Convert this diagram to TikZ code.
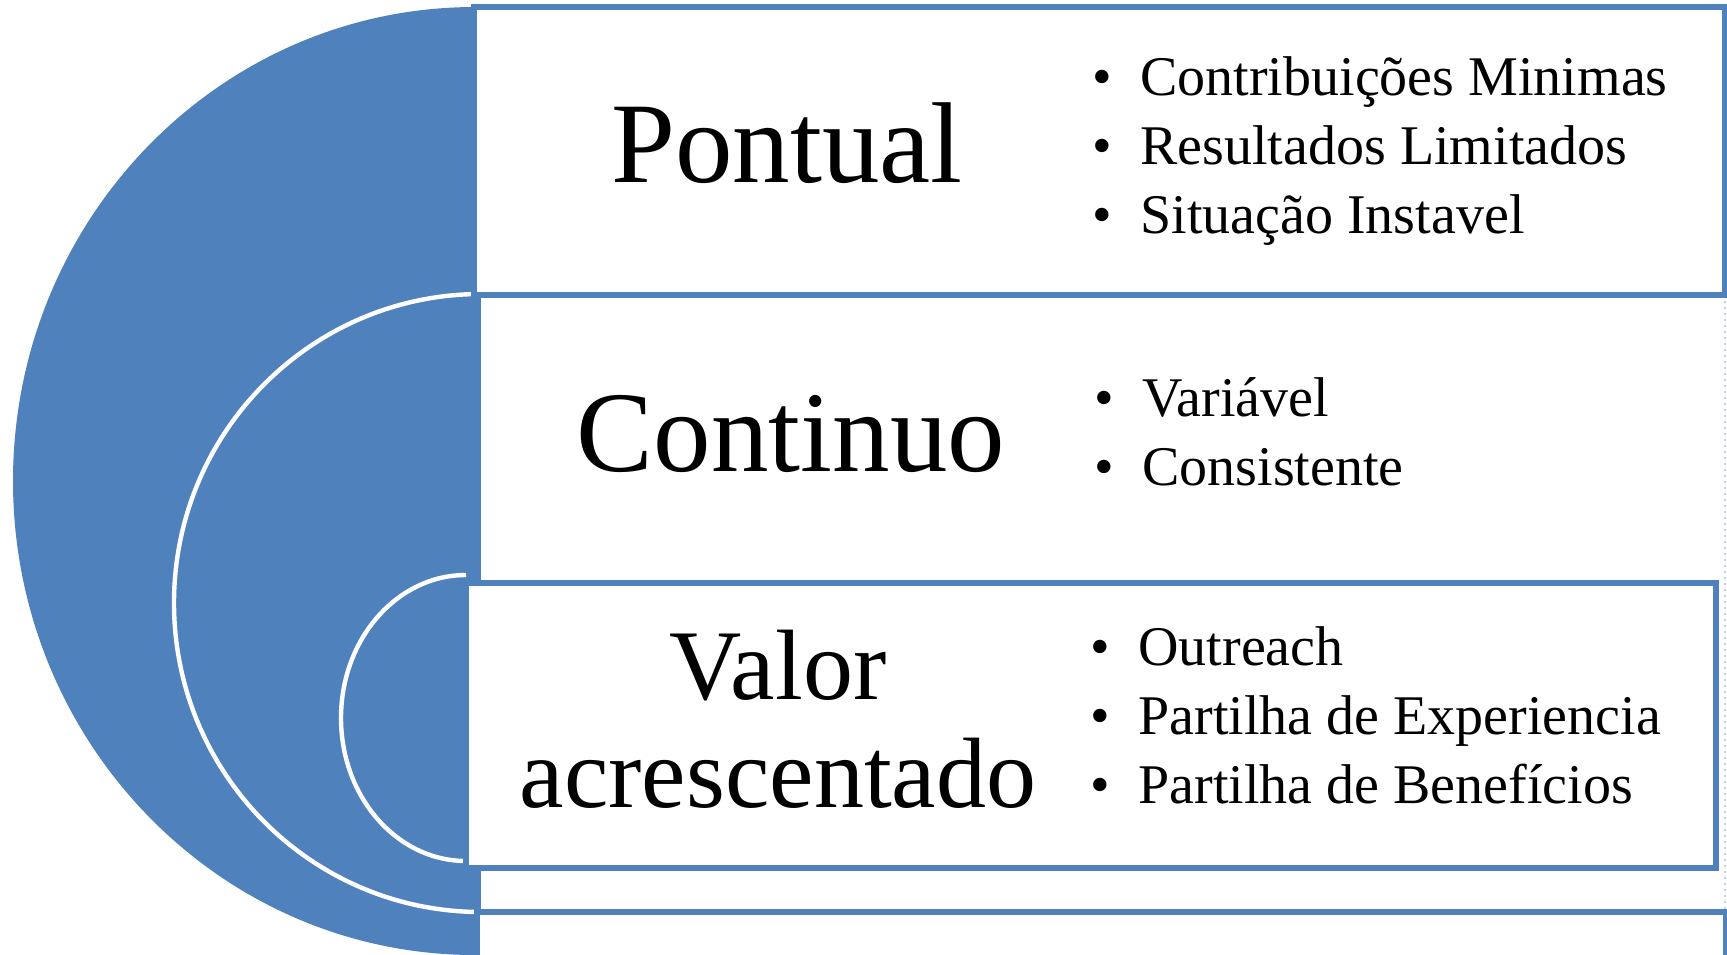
\documentclass[tikz,border=0pt]{standalone}
\usepackage{fontspec}
\setmainfont{Liberation Serif}
\definecolor{accent}{RGB}{79,129,189}
\begin{document}
\begin{tikzpicture}[x=0.5pt,y=-0.5pt,
  arcfill/.style={fill=accent},
  arcline/.style={draw=white,line width=2.2pt},
  box/.style={draw=accent,line width=2.7pt,fill=white},
  title/.style={font=\fontsize{57.5}{62}\selectfont,inner sep=0pt,anchor=base},
  items/.style={font=\fontsize{28}{34.5}\selectfont,align=left,inner sep=0pt,anchor=base west}]
\useasboundingbox (0,0) rectangle (1727,954);
% outer half ellipse
\fill[arcfill] (475,7) arc[start angle=-90,end angle=-270,x radius=462,y radius=474] -- cycle;
% middle half ellipse
\fill[arcfill] (481,294) arc[start angle=-90,end angle=-270,x radius=307,y radius=309] -- cycle;
\draw[arcline] (481,294) arc[start angle=-90,end angle=-270,x radius=307,y radius=309];
% inner half ellipse
\fill[arcfill] (466,575) arc[start angle=-90,end angle=-270,x radius=125,y radius=143] -- cycle;
\draw[arcline] (466,575) arc[start angle=-90,end angle=-270,x radius=125,y radius=143];
% boxes
\fill[white] (481,295) rectangle (1725,912);
\draw[accent!35,dotted,line width=1pt] (1725,295) -- (1725,912);
\draw[box] (477,912) rectangle (1726,1000);
\draw[box] (474,7) rectangle (1725,295);
\draw[box] (466,583) rectangle (1716,868);
% titles
\node[title] (t1) at (787,182) {Pontual};
\node[title] (t2) at (791,471) {Continuo};
\node[title,font=\fontsize{50}{54}\selectfont,align=center] (t3) at (778,807) {Valor\\acrescentado};
% lists (anchored on the baseline of the last line)
\node[items] (l1) at (1092,233) {\makebox[24pt][l]{\textbullet}Contribuições Minimas\\\makebox[24pt][l]{\textbullet}Resultados Limitados\\\makebox[24pt][l]{\textbullet}Situação Instavel};
\node[items] (l2) at (1094,485) {\makebox[24pt][l]{\textbullet}Variável\\\makebox[24pt][l]{\textbullet}Consistente};
\node[items] (l3) at (1090,803) {\makebox[24pt][l]{\textbullet}Outreach\\\makebox[24pt][l]{\textbullet}Partilha de Experiencia\\\makebox[24pt][l]{\textbullet}Partilha de Benefícios};
\end{tikzpicture}
\end{document}
